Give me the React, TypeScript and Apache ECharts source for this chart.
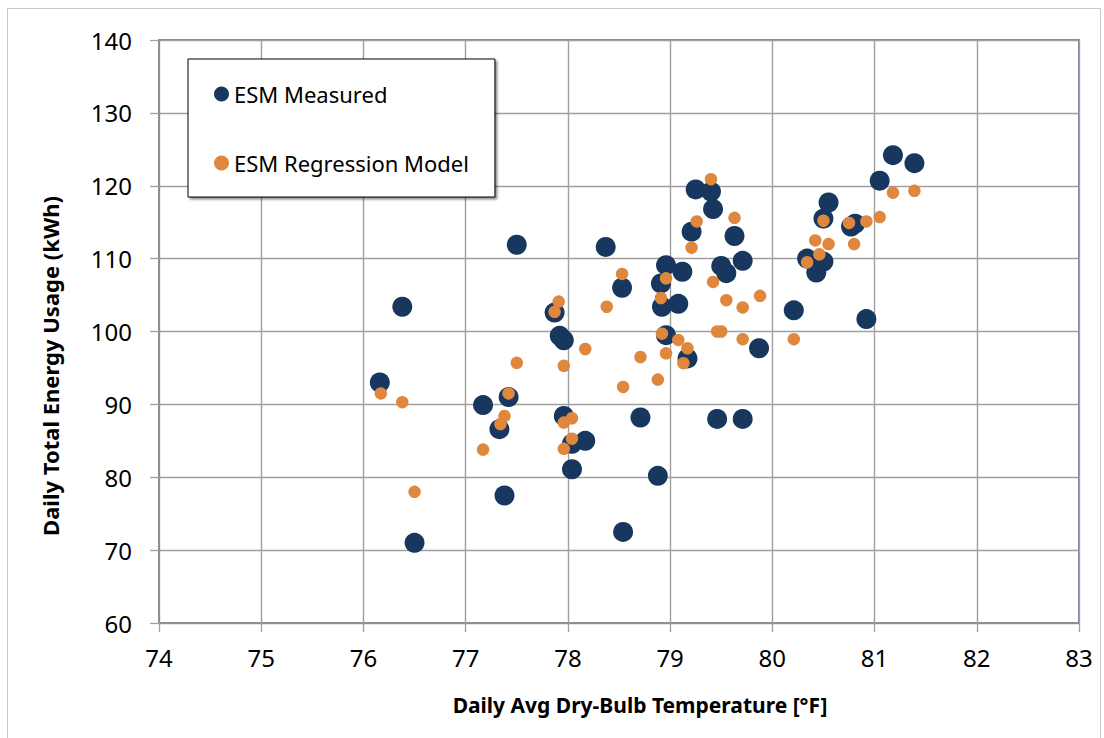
import React, { useEffect, useRef } from "react";
import * as echarts from "echarts";

const xTicks = [74, 75, 76, 77, 78, 79, 80, 81, 82, 83];
const yTicks = [60, 70, 80, 90, 100, 110, 120, 130, 140];

const measuredTemp = [
  76.16, 76.38, 76.5, 77.17, 77.33, 77.42, 77.38, 77.5, 77.87, 77.92,
  77.96, 77.96, 78.04, 78.17, 78.04, 78.37, 78.53, 78.54, 78.71, 78.88,
  78.96, 78.91, 79.12, 78.92, 79.08, 78.96, 79.17, 79.25, 79.4, 79.42,
  79.21, 79.63, 79.5, 79.55, 79.71, 79.87, 79.46, 79.71, 80.21, 80.55,
  80.5, 80.34, 80.5, 80.43, 81.18, 81.39, 81.05, 80.77, 80.81, 80.92,
];
const measuredKWh = [
  93.0, 103.4, 71.0, 89.9, 86.6, 91.0, 77.5, 111.9, 102.6, 99.4,
  98.8, 88.4, 84.6, 85.0, 81.1, 111.6, 106.0, 72.5, 88.2, 80.2,
  109.1, 106.6, 108.2, 103.4, 103.8, 99.5, 96.3, 119.5, 119.2, 116.8,
  113.7, 113.1, 109.0, 108.0, 109.7, 97.7, 88.0, 88.0, 102.9, 117.7,
  115.5, 110.0, 109.6, 108.1, 124.2, 123.1, 120.7, 114.4, 114.8, 101.7,
];

const modelTemp = [
  76.17, 76.38, 76.5, 77.17, 77.34, 77.42, 77.38, 77.5, 77.87, 77.91,
  77.96, 77.96, 78.04, 78.17, 78.04, 77.96, 78.38, 78.53, 78.54, 78.71,
  78.88, 78.96, 78.91, 78.92, 79.08, 78.96, 79.17, 79.13, 79.26, 79.4,
  79.42, 79.21, 79.63, 79.5, 79.46, 79.55, 79.71, 79.88, 79.71, 80.21,
  80.55, 80.5, 80.34, 80.46, 80.42, 81.18, 81.39, 81.05, 80.75, 80.8,
  80.92,
];
const modelKWh = [
  91.5, 90.3, 78.0, 83.8, 87.3, 91.5, 88.4, 95.7, 102.7, 104.1,
  95.3, 87.5, 88.1, 97.6, 85.3, 83.9, 103.4, 107.9, 92.4, 96.5,
  93.4, 107.3, 104.6, 99.7, 98.85, 97.0, 97.7, 95.65, 115.1, 120.9,
  106.8, 111.5, 115.6, 100.0, 100.0, 104.3, 103.3, 104.9, 98.95, 98.95,
  112.0, 115.2, 109.5, 110.6, 112.5, 119.05, 119.3, 115.7, 114.9, 112.0,
  115.1,
];

const seriesNames = ["ESM Measured", "ESM Regression Model"];
const xTitle = "Daily Avg Dry-Bulb Temperature [°F]";
const yTitle = "Daily Total Energy Usage (kWh)";

const FONT = "'Noto Sans', 'Open Sans', sans-serif";

export default function App() {
  const ref = useRef<HTMLDivElement>(null);
  useEffect(() => {
    if (!ref.current) return;
    const chart = echarts.init(ref.current, null, { renderer: "svg" });
    const measured = measuredTemp.map((t, i) => [t, measuredKWh[i]]);
    const model = modelTemp.map((t, i) => [t, modelKWh[i]]);
    chart.setOption({
      animation: false,
      backgroundColor: "#ffffff",
      textStyle: { fontFamily: FONT },
      grid: {
        left: 159,
        right: 25,
        top: 40,
        bottom: 115,
        show: true,
        borderColor: "#4f6180",
        borderWidth: 1.5,
        containLabel: false,
      },
      legend: {
        orient: "vertical",
        left: 188,
        top: 59,
        padding: [22, 26, 21, 26],
        itemGap: 43,
        itemWidth: 15,
        itemHeight: 15,
        backgroundColor: "#ffffff",
        borderColor: "#000000",
        borderWidth: 1,
        shadowColor: "rgba(0,0,0,0.45)",
        shadowBlur: 2,
        shadowOffsetX: 2,
        shadowOffsetY: 2,
        selectedMode: false,
        textStyle: {
          fontFamily: FONT,
          fontSize: 22,
          color: "#000000",
          lineHeight: 26,
        },
        data: [
          { name: seriesNames[0], icon: "circle" },
          { name: seriesNames[1], icon: "circle" },
        ],
      },
      xAxis: {
        type: "value",
        min: xTicks[0],
        max: xTicks[xTicks.length - 1],
        interval: 1,
        axisLine: { show: true, onZero: false, lineStyle: { color: "#8a8f99", width: 2 } },
        axisTick: { show: true, length: 9, lineStyle: { color: "#a0a0a0", width: 1.3 } },
        axisLabel: { fontFamily: FONT, fontSize: 24, color: "#000", margin: 22 },
        splitLine: { show: true, lineStyle: { color: "#9f9f9f", width: 1.4 } },
      },
      yAxis: {
        type: "value",
        min: yTicks[0],
        max: yTicks[yTicks.length - 1],
        interval: 10,
        axisLine: { show: true, onZero: false, lineStyle: { color: "#8a8f99", width: 2 } },
        axisTick: { show: true, length: 9, lineStyle: { color: "#a0a0a0", width: 1.3 } },
        axisLabel: { fontFamily: FONT, fontSize: 24, color: "#000", margin: 27 },
        splitLine: { show: true, lineStyle: { color: "#9f9f9f", width: 1.4 } },
      },
      graphic: [
        {
          type: "rect",
          silent: true,
          z: -10,
          shape: { x: 7.5, y: 8.5, width: 1093, height: 740 },
          style: { fill: "none", stroke: "#c8c8c8", lineWidth: 1 },
        },
        {
          type: "text",
          x: 640,
          y: 705,
          style: {
            text: xTitle,
            fontFamily: FONT,
            fontSize: 21,
            fontWeight: "bold",
            fill: "#000",
            align: "center",
            verticalAlign: "middle",
          },
        },
        {
          type: "text",
          x: 50,
          y: 366,
          rotation: Math.PI / 2,
          style: {
            text: yTitle,
            fontFamily: FONT,
            fontSize: 22,
            fontWeight: "bold",
            fill: "#000",
            align: "center",
            verticalAlign: "middle",
          },
        },
      ],
      series: [
        {
          name: seriesNames[0],
          type: "scatter",
          data: measured,
          symbol: "circle",
          symbolSize: 20,
          itemStyle: { color: "#17375e", opacity: 1 },
          z: 2,
        },
        {
          name: seriesNames[1],
          type: "scatter",
          data: model,
          symbol: "circle",
          symbolSize: 12.5,
          itemStyle: { color: "#e0873e", opacity: 1 },
          z: 3,
        },
      ],
    });
    return () => chart.dispose();
  }, []);
  return (
    <div
      ref={ref}
      style={{ position: "fixed", left: 0, top: 0, width: 1104, height: 738 }}
    />
  );
}
